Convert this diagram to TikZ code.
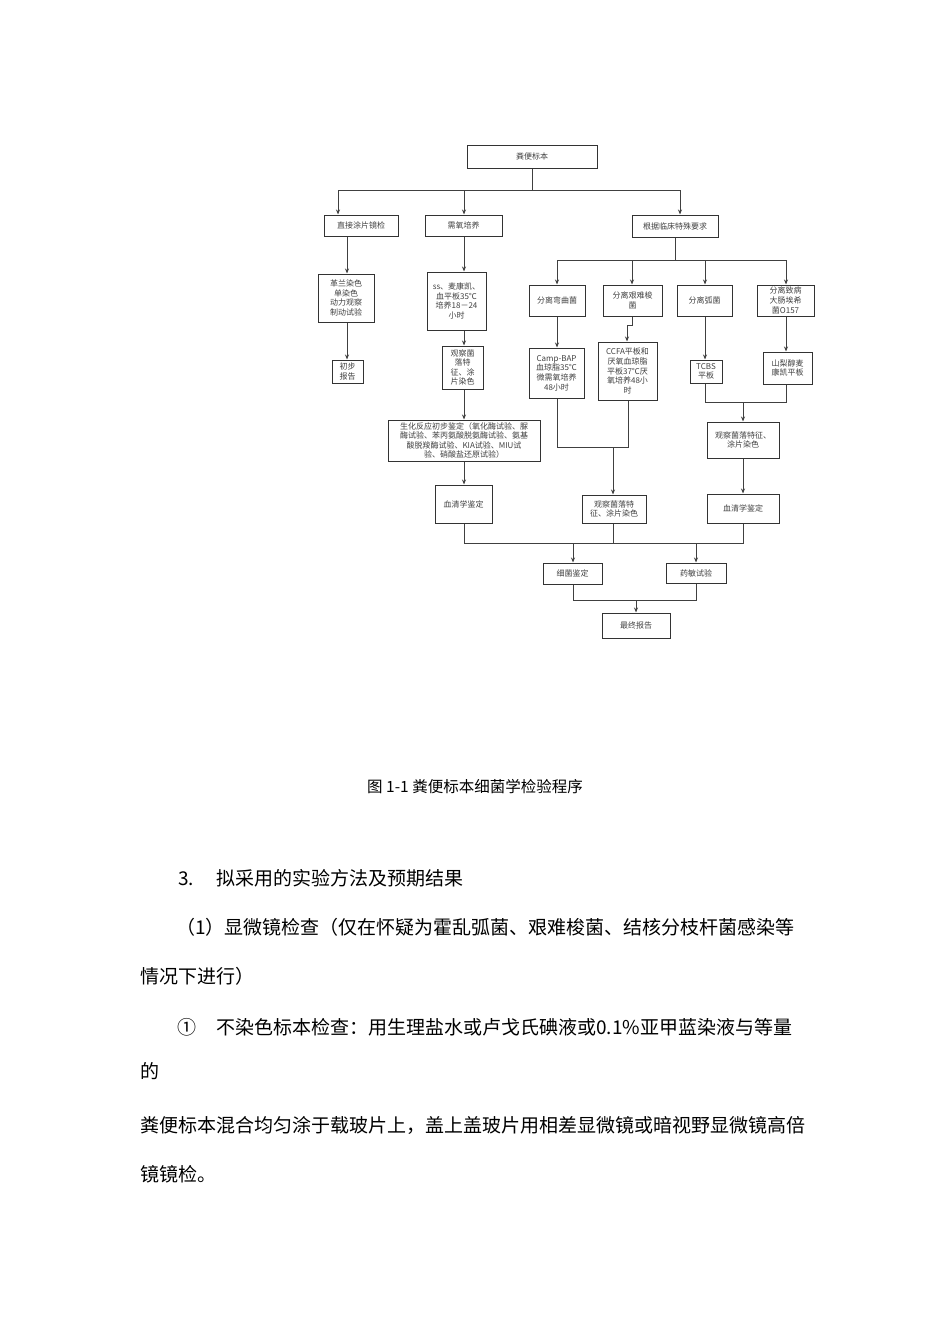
\documentclass[tikz,border=0pt]{standalone}
\usepackage{fontspec}
\setmainfont{Noto Sans CJK SC}
\usetikzlibrary{arrows.meta}
\begin{document}
\begin{tikzpicture}[x=1pt,y=-1pt,
  bx/.style={draw=black!80,line width=1pt,inner sep=0pt,align=center,font=\fontsize{8}{9.6}\selectfont,text=black!75},
  ln/.style={draw=black!75,line width=0.9pt},
  ar/.style={ln,-{Stealth[length=5pt,width=4pt]}},
  body/.style={anchor=west,inner sep=0pt,font=\fontsize{19}{21}\selectfont}]
\useasboundingbox (0,0) rectangle (950,1344);
\newcommand\B[6]{\node[bx,minimum width=#4-#2,minimum height=#5-#3] (#1) at ({(#2+#4)/2},{(#3+#5)/2}) {#6};}
\B{top}{467}{145}{597}{168}{粪便标本}
\B{zj}{324}{215}{398}{236}{直接涂片镜检}
\B{xy}{425}{215}{502}{236}{需氧培养}
\B{gj}{632}{215}{718}{237}{根据临床特殊要求}
\B{gl}{318}{274}{374}{322}{革兰染色\\单染色\\动力观察\\制动试验}
\B{cb}{332}{360}{363}{383}{初步\\报告}
\B{ss}{427}{272}{486}{330}{ss、麦康凯、\\血平板35℃\\培养18－24\\小时}
\B{gc}{442}{346}{483}{389}{观察菌\\落特\\征、涂\\片染色}
\B{sh}{388}{420}{540}{461}{生化反应初步鉴定（氧化酶试验、脲\\酶试验、苯丙氨酸脱氨酶试验、氨基\\酸脱羧酶试验、KIA试验、MIU试\\验、硝酸盐还原试验）}
\B{xq}{435}{485}{492}{523}{血清学鉴定}
\B{wq}{529}{285}{585}{316}{分离弯曲菌}
\B{jn}{603}{285}{662}{316}{分离艰难梭\\菌}
\B{hj}{677}{285}{732}{316}{分离弧菌}
\B{dc}{757}{285}{814}{316}{分离致病\\大肠埃希\\菌O157}
\B{camp}{529}{348}{584}{398}{Camp-BAP\\血琼脂35℃\\微需氧培养\\48小时}
\B{ccfa}{598}{342}{657}{400}{CCFA平板和\\厌氧血琼脂\\平板37℃厌\\氧培养48小\\时}
\B{tcbs}{690}{360}{722}{383}{TCBS\\平板}
\B{sl}{763}{352}{812}{384}{山梨醇麦\\康凯平板}
\B{gr}{707}{422}{779}{458}{观察菌落特征、\\涂片染色}
\B{gm}{582}{495}{646}{523}{观察菌落特\\征、涂片染色}
\B{xr}{707}{494}{779}{523}{血清学鉴定}
\B{xj}{543}{563}{602}{584}{细菌鉴定}
\B{ym}{666}{563}{726}{583}{药敏试验}
\B{zz}{602}{613}{670}{638}{最终报告}
% top
\draw[ln] (top.south) -- (532,190);
\draw[ln] (338,190) -- (680,190);
\draw[ar] (338,190) -- (zj.north -| 338,0);
\draw[ar] (464,190) -- (xy.north -| 464,0);
\draw[ar] (680,190) -- (gj.north -| 680,0);
% left
\draw[ar] (zj.south -| 347,0) -- (gl.north -| 347,0);
\draw[ar] (gl.south -| 347,0) -- (cb.north -| 347,0);
\draw[ar] (xy.south -| 464,0) -- (ss.north -| 464,0);
\draw[ar] (ss.south -| 464,0) -- (gc.north -| 464,0);
\draw[ar] (gc.south -| 464,0) -- (sh.north -| 464,0);
\draw[ar] (sh.south -| 464,0) -- (xq.north -| 464,0);
% right
\draw[ln] (gj.south -| 675,0) -- (675,260);
\draw[ln] (557,260) -- (786,260);
\draw[ar] (557,260) -- (wq.north -| 557,0);
\draw[ar] (632,260) -- (jn.north -| 632,0);
\draw[ar] (705,260) -- (hj.north -| 705,0);
\draw[ar] (786,260) -- (dc.north -| 786,0);
\draw[ar] (wq.south -| 557,0) -- (camp.north -| 557,0);
\draw[ar] (jn.south -| 632,0) -- (632,325) -- (627,325) -- (ccfa.north -| 627,0);
\draw[ar] (hj.south -| 705,0) -- (tcbs.north -| 705,0);
\draw[ar] (dc.south -| 786,0) -- (sl.north -| 786,0);
\draw[ln] (tcbs.south -| 705,0) -- (705,402) -- (786,402) -- (sl.south -| 786,0);
\draw[ar] (743,402) -- (gr.north -| 743,0);
\draw[ar] (gr.south -| 743,0) -- (xr.north -| 743,0);
\draw[ln] (camp.south -| 557,0) -- (557,447) -- (628,447) -- (ccfa.south -| 628,0);
\draw[ar] (613,447) -- (gm.north -| 613,0);
% bottom
\draw[ln] (xq.south -| 464,0) -- (464,543) -- (743,543) -- (xr.south -| 743,0);
\draw[ln] (gm.south -| 613,0) -- (613,543);
\draw[ar] (573,543) -- (xj.north -| 573,0);
\draw[ar] (696,543) -- (ym.north -| 696,0);
\draw[ln] (xj.south -| 573,0) -- (573,600) -- (696,600) -- (ym.south -| 696,0);
\draw[ar] (636,600) -- (zz.north -| 636,0);
% text
\node[font=\fontsize{15.5}{17}\selectfont] (cap) at (475,787) {图 1-1 粪便标本细菌学检验程序};
\node[body] (t1) at (178,878) {3.\hspace{22pt}拟采用的实验方法及预期结果};
\node[body] (t2) at (176,927) {（1）显微镜检查（仅在怀疑为霍乱弧菌、艰难梭菌、结核分枝杆菌感染等};
\node[body] (t3) at (140,976) {情况下进行）};
\node[body] (t4) at (177,1027) {①\hspace{20pt}不染色标本检查：用生理盐水或卢戈氏碘液或0.1\%亚甲蓝染液与等量};
\node[body] (t5) at (140,1071) {的};
\node[body] (t6) at (140,1125) {粪便标本混合均匀涂于载玻片上，盖上盖玻片用相差显微镜或暗视野显微镜高倍};
\node[body] (t7) at (140,1174) {镜镜检。};
\end{tikzpicture}
\end{document}
